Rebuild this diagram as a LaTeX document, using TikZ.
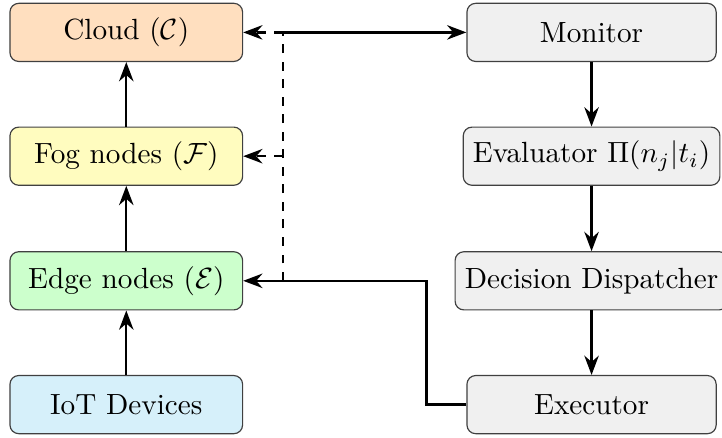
\documentclass[tikz,border=0pt]{standalone}
\usepackage{tikz}
\usetikzlibrary{positioning, arrows.meta, calc}
\definecolor{iotblue}{RGB}{214,240,250}

\tikzset{
  layer/.style={draw=black!75, rounded corners=3pt, minimum width=2.8cm, minimum height=0.7cm},
  stage/.style={layer, fill=gray!12, minimum width=3cm},
  flow/.style={-{Stealth}, thick},
}

\begin{document}
\begin{tikzpicture}
  \useasboundingbox (0,0) rectangle (8.69,5.26);
  % computing layers, bottom up
  \node[layer, fill=iotblue] (iot) at (1.52,0.39) {IoT Devices};
  \node[layer, fill=green!20] (edge) at (1.52,1.88) {Edge nodes ($\mathcal{E}$)};
  \node[layer, fill=yellow!25] (fog) at (1.52,3.38) {Fog nodes ($\mathcal{F}$)};
  \node[layer, fill=orange!25] (cloud) at (1.52,4.87) {Cloud ($\mathcal{C}$)};
  % control loop, one row per layer
  \node[stage] (monitor) at (7.12,0 |- cloud) {Monitor};
  \node[stage] (eval) at (7.12,0 |- fog) {Evaluator $\Pi(n_j|t_i)$};
  \node[stage] (dispatch) at (7.12,0 |- edge) {Decision Dispatcher};
  \node[stage] (exec) at (7.12,0 |- iot) {Executor};

  \draw[flow] (iot) -- (edge);
  \draw[flow] (edge) -- (fog);
  \draw[flow] (fog) -- (cloud);
  \draw[flow] (monitor) -- (eval);
  \draw[flow] (eval) -- (dispatch);
  \draw[flow] (dispatch) -- (exec);
  \draw[flow] (exec.west) -- ++(-0.48,0) |- (edge.east);

  \coordinate (tap) at ($(edge.east)+(0.48,0)$);
  \coordinate (tapup) at (tap |- cloud.east);
  \draw[thick, dashed] (tap) -- (tapup);
  \draw[flow] (tapup) -- (monitor.west);
  \draw[flow, dashed] (tapup) -- (cloud.east);
  \draw[flow, dashed] (tap |- fog.east) -- (fog.east);
\end{tikzpicture}
\end{document}
